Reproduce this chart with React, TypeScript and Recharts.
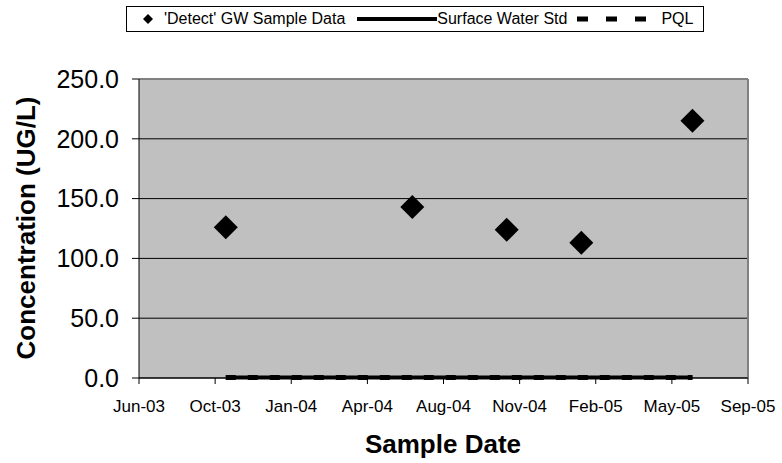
import React from "react";
import { ComposedChart, Scatter, Line, XAxis, YAxis, CartesianGrid, ReferenceLine, Label } from "recharts";

// sample dates
const sampleDates = ["2003-10-20", "2004-06-21", "2004-10-23", "2005-01-29", "2005-06-24"];
const sampleValues = [126, 143, 124, 113, 215];
const surfaceWaterStd = [0.5, 0.5, 0.5, 0.5, 0.5];
const pqlValues = [0.5, 0.5, 0.5, 0.5, 0.5];

// Excel date axis: 100 day major unit
const dateTicks = [
  "2003-06-28", "2003-10-06", "2004-01-14", "2004-04-23", "2004-08-01",
  "2004-11-09", "2005-02-17", "2005-05-28", "2005-09-05",
];
const valueTicks = [0, 50, 100, 150, 200, 250];

const MONTHS = ["Jan", "Feb", "Mar", "Apr", "May", "Jun", "Jul", "Aug", "Sep", "Oct", "Nov", "Dec"];
const FONT = "'Liberation Sans', Arial, sans-serif";

const toTime = (s: string) => Date.parse(s + "T00:00:00Z");
const fmtDate = (t: number) => {
  const d = new Date(t);
  return `${MONTHS[d.getUTCMonth()]}-${String(d.getUTCFullYear()).slice(2)}`;
};

const sampleData = sampleDates.map((d, i) => ({ date: toTime(d), value: sampleValues[i] }));
const stdData = sampleDates.map((d, i) => ({ date: toTime(d), value: surfaceWaterStd[i] }));
const pqlData = sampleDates.map((d, i) => ({ date: toTime(d), value: pqlValues[i] }));
const xTicks = dateTicks.map(toTime);

const Diamond = (props: any) => {
  const { cx, cy } = props;
  const r = 12;
  return <polygon points={`${cx},${cy - r} ${cx + r},${cy} ${cx},${cy + r} ${cx - r},${cy}`} fill="#000" />;
};

const YTitle = () => (
  <text x={26} y={228} transform="rotate(-90 26 228)" textAnchor="middle" dominantBaseline="central"
    fontFamily={FONT} fontWeight="bold" fontSize={26} fill="#000">
    Concentration (UG/L)
  </text>
);

const XTitle = () => (
  <text x={443} y={453} textAnchor="middle" fontFamily={FONT} fontWeight="bold" fontSize={26} fill="#000">
    Sample Date
  </text>
);

const ChartLegend = () => (
  <div
    style={{
      position: "absolute", left: 126, top: 6, width: 578, height: 26, boxSizing: "border-box",
      border: "1px solid #000", background: "#fff", display: "flex", alignItems: "center",
      fontFamily: FONT, fontSize: 16, color: "#000", whiteSpace: "nowrap",
    }}
  >
    <svg width={37} height={20}>
      <polygon points="21,5 26,10 21,15 16,10" fill="#000" />
    </svg>
    <span>'Detect' GW Sample Data</span>
    <svg width={92} height={20}>
      <line x1={12} y1={10} x2={92} y2={10} stroke="#000" strokeWidth={4} />
    </svg>
    <span>Surface Water Std</span>
    <svg width={94} height={20}>
      <line x1={10} y1={10} x2={86} y2={10} stroke="#000" strokeWidth={5} strokeDasharray="11 18" />
    </svg>
    <span>PQL</span>
  </div>
);

const App: React.FC = () => {
  return (
    <div style={{ position: "absolute", left: 0, top: 0, width: 782, height: 463, background: "#fff" }}>
      <ComposedChart width={782} height={463} margin={{ top: 79, right: 34, bottom: 0, left: 0 }}>
        <CartesianGrid fill="#C0C0C0" stroke="#000" vertical={false} />
        <XAxis
          dataKey="date"
          type="number"
          domain={[xTicks[0], xTicks[xTicks.length - 1]]}
          ticks={xTicks}
          tickFormatter={fmtDate}
          height={85}
          tickSize={6}
          tickMargin={16}
          axisLine={{ stroke: "#000" }}
          tickLine={{ stroke: "#000" }}
          tick={{ fill: "#000", fontSize: 17, fontFamily: FONT }}
          interval={0}
        >
          <Label content={<XTitle />} />
        </XAxis>
        <YAxis
          type="number"
          domain={[0, 250]}
          ticks={valueTicks}
          tickFormatter={(v: number) => v.toFixed(1)}
          width={139}
          tickSize={7}
          tickMargin={13}
          axisLine={{ stroke: "#000" }}
          tickLine={{ stroke: "#000" }}
          tick={{ fill: "#000", fontSize: 25, fontFamily: FONT }}
          interval={0}
        >
          <Label content={<YTitle />} />
        </YAxis>
        <ReferenceLine y={250} stroke="#808080" strokeWidth={2} />
        <ReferenceLine x={xTicks[xTicks.length - 1]} stroke="#808080" strokeWidth={2} />
        <Line data={stdData} dataKey="value" stroke="#000" strokeWidth={4} dot={false} isAnimationActive={false} />
        <Line data={pqlData} dataKey="value" stroke="#000" strokeWidth={5} strokeDasharray="10 12" dot={false} isAnimationActive={false} />
        <Scatter data={sampleData} dataKey="value" shape={<Diamond />} fill="#000" isAnimationActive={false} />
      </ComposedChart>
      <ChartLegend />
    </div>
  );
};

export default App;
